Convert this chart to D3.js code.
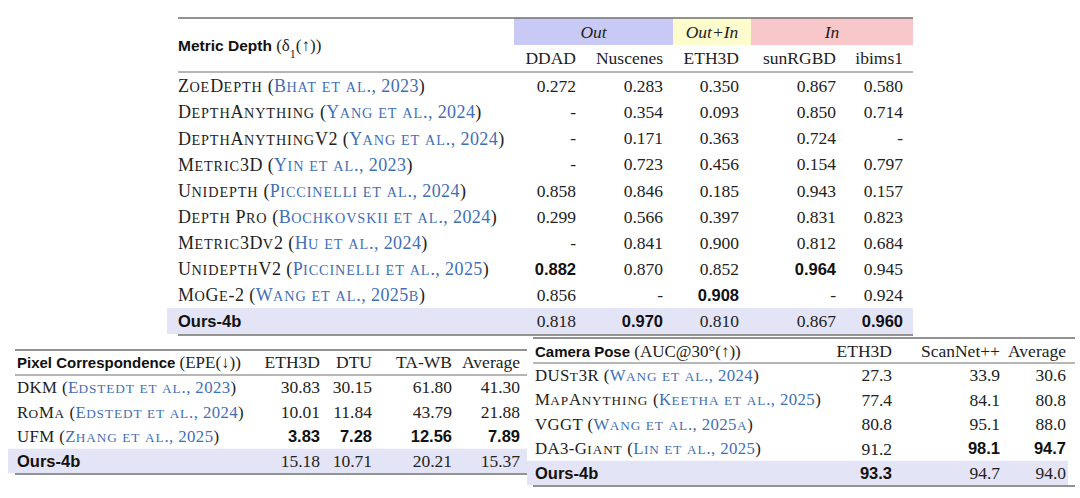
<!DOCTYPE html>
<html>
<head>
  <script src="https://d3js.org/d3.v7.min.js"></script>
  <style>
    body { margin: 0; background: #fff; }
    .serif { font-family: "Liberation Serif", serif; fill: #222; }
    .sans { font-family: "Liberation Sans", sans-serif; font-weight: bold; fill: #111; }
    .cite { fill: #3f6fb5; }
  </style>
</head>
<body>
  <svg id="chart" width="1080" height="498"></svg>
  <script>
    // metric depth table
    var depthCols = ['DDAD', 'Nuscenes', 'ETH3D', 'sunRGBD', 'ibims1'];
    var depthGroups = ['Out', 'Out+In', 'In'];
    var depthMethods = ['ZoeDepth', 'DepthAnything', 'DepthAnythingV2', 'Metric3D', 'Unidepth',
      'Depth Pro', 'Metric3Dv2', 'UnidepthV2', 'MoGe-2', 'Ours-4b'];
    var depthCites = ['Bhat et al., 2023', 'Yang et al., 2024', 'Yang et al., 2024', 'Yin et al., 2023',
      'Piccinelli et al., 2024', 'Bochkovskii et al., 2024', 'Hu et al., 2024',
      'Piccinelli et al., 2025', 'Wang et al., 2025b', null];
    var depthVals = [
      [0.272, 0.283, 0.350, 0.867, 0.580],
      [null, 0.354, 0.093, 0.850, 0.714],
      [null, 0.171, 0.363, 0.724, null],
      [null, 0.723, 0.456, 0.154, 0.797],
      [0.858, 0.846, 0.185, 0.943, 0.157],
      [0.299, 0.566, 0.397, 0.831, 0.823],
      [null, 0.841, 0.900, 0.812, 0.684],
      [0.882, 0.870, 0.852, 0.964, 0.945],
      [0.856, null, 0.908, null, 0.924],
      [0.818, 0.970, 0.810, 0.867, 0.960]
    ];

    // pixel correspondence table
    var pixCols = ['ETH3D', 'DTU', 'TA-WB', 'Average'];
    var pixMethods = ['DKM', 'RoMa', 'UFM', 'Ours-4b'];
    var pixCites = ['Edstedt et al., 2023', 'Edstedt et al., 2024', 'Zhang et al., 2025', null];
    var pixVals = [
      [30.83, 30.15, 61.80, 41.30],
      [10.01, 11.84, 43.79, 21.88],
      [3.83, 7.28, 12.56, 7.89],
      [15.18, 10.71, 20.21, 15.37]
    ];

    // camera pose table
    var camCols = ['ETH3D', 'ScanNet++', 'Average'];
    var camMethods = ['DUSt3R', 'MapAnything', 'VGGT', 'DA3-Giant', 'Ours-4b'];
    var camCites = ['Wang et al., 2024', 'Keetha et al., 2025', 'Wang et al., 2025a', 'Lin et al., 2025', null];
    var camVals = [
      [27.3, 33.9, 30.6],
      [77.4, 84.1, 80.8],
      [80.8, 95.1, 88.0],
      [91.2, 98.1, 94.7],
      [93.3, 94.7, 94.0]
    ];

    var groupColor = d3.scaleOrdinal()
      .domain(depthGroups)
      .range(['#c9c9f6', '#fdfccd', '#f8c7ca']);

    var svg = d3.select('#chart');

    // fake LaTeX small caps: lowercase runs become smaller capitals
    function smallCaps(sel, str, size) {
      str.split(/([a-z]+)/).forEach(function (part) {
        if (!part) return;
        if (/^[a-z]+$/.test(part)) {
          sel.append('tspan').style('font-size', (size * 0.79) + 'px')
            .style('letter-spacing', '0.9px').text(part.toUpperCase());
        } else {
          sel.append('tspan').text(part);
        }
      });
    }

    function drawTable(t) {
      var g = svg.append('g');
      var n = t.methods.length;
      var x = d3.scaleOrdinal().domain(t.cols).range(t.colRight);
      var y = d3.scalePoint().domain(d3.range(n)).range([t.firstRow, t.lastRow]);
      var step = y.step();

      // white backing so overlapping tables stay clean
      g.append('rect')
        .attr('x', t.left - 4).attr('y', t.top - 2)
        .attr('width', t.right - t.left + 8).attr('height', t.bottom - t.top + 4)
        .attr('fill', '#fff');

      // highlight our row
      g.append('rect')
        .attr('x', t.hlLeft).attr('y', y(n - 1) - step / 2)
        .attr('width', t.hlRight - t.hlLeft).attr('height', step)
        .attr('fill', '#e4e4f7');

      if (t.groups) {
        t.groups.forEach(function (grp, i) {
          var x0 = t.bandEdges[i], x1 = t.bandEdges[i + 1];
          g.append('rect')
            .attr('x', x0).attr('y', t.top)
            .attr('width', x1 - x0).attr('height', t.bandH)
            .attr('fill', groupColor(grp));
          g.append('text')
            .attr('class', 'serif')
            .attr('x', (x0 + x1) / 2).attr('y', t.top + t.bandH / 2)
            .attr('dy', '0.35em')
            .attr('text-anchor', 'middle')
            .style('font-style', 'italic')
            .style('font-size', '17.5px')
            .text(grp);
        });
      }

      // rules
      [[t.top, 1.6], [t.mid, 1.1], [t.bottom, 1.6]].forEach(function (r) {
        g.append('line')
          .attr('x1', t.left).attr('x2', t.right)
          .attr('y1', r[0]).attr('y2', r[0])
          .attr('stroke', '#6f6f6f').attr('stroke-width', r[1]);
      });

      // title
      var title = g.append('text')
        .attr('x', t.labelX).attr('y', t.titleY).attr('dy', '0.35em');
      title.append('tspan').attr('class', 'sans').style('font-size', t.titleSize + 'px').text(t.title);
      var sub = title.append('tspan').attr('class', 'serif').style('font-size', '17px');
      t.titleTail(sub);

      // column headers
      g.selectAll('.colhead')
        .data(t.cols)
        .enter()
        .append('text')
        .attr('class', 'serif colhead')
        .attr('x', x).attr('y', t.headY).attr('dy', '0.35em')
        .attr('text-anchor', 'end')
        .style('font-size', '17.5px')
        .text(function (d) { return d; });

      // best value per column
      var best = t.cols.map(function (c, j) {
        var col = t.vals.map(function (r) { return r[j]; }).filter(function (v) { return v != null; });
        return t.lowerBetter ? d3.min(col) : d3.max(col);
      });

      var row = g.selectAll('.row')
        .data(t.methods)
        .enter()
        .append('g')
        .attr('transform', function (d, i) { return 'translate(0,' + y(i) + ')'; });

      row.each(function (m, i) {
        var r = d3.select(this);
        var label = r.append('text').attr('x', t.labelX).attr('dy', '0.35em');
        if (t.cites[i] == null) {
          label.attr('class', 'sans').style('font-size', '16.5px').text(m);
        } else {
          label.attr('class', 'serif').style('font-size', t.labelSize + 'px')
            .style('letter-spacing', '0.4px');
          smallCaps(label.append('tspan'), m, t.labelSize);
          label.append('tspan').text(' (');
          smallCaps(label.append('tspan').attr('class', 'cite'), t.cites[i], t.labelSize);
          label.append('tspan').text(')');
        }
        t.vals[i].forEach(function (v, j) {
          var isBest = v != null && v === best[j];
          r.append('text')
            .attr('class', isBest ? 'sans' : 'serif')
            .attr('x', x(t.cols[j]))
            .attr('dy', '0.35em')
            .attr('text-anchor', 'end')
            .style('font-size', isBest ? '16.5px' : '17.5px')
            .text(v == null ? '-' : d3.format(t.fmt)(v));
        });
      });
    }

    drawTable({
      methods: depthMethods, cites: depthCites, vals: depthVals, cols: depthCols,
      groups: depthGroups, fmt: '.3f', labelSize: 18,
      colRight: [576, 663, 739, 836, 903],
      bandEdges: [514, 673, 751, 913], bandH: 27,
      left: 178, right: 913,
      top: 18, mid: 72, bottom: 335, headY: 58, titleY: 45,
      firstRow: 86, lastRow: 321, hlLeft: 167, hlRight: 913,
      labelX: 178, title: 'Metric Depth ', titleSize: 15.5,
      titleTail: function (s) {
        s.append('tspan').text('(\u03b4');
        s.append('tspan').attr('baseline-shift', 'sub').style('font-size', '12px').text('1');
        s.append('tspan').text('(\u2191))');
      }
    });

    drawTable({
      methods: pixMethods, cites: pixCites, vals: pixVals, cols: pixCols,
      fmt: '.2f', lowerBetter: true, labelSize: 16.8,
      colRight: [320, 372, 452, 520],
      left: 15, right: 527, top: 350, mid: 375, bottom: 474, headY: 362, titleY: 362,
      firstRow: 387, lastRow: 461, hlLeft: 8, hlRight: 527,
      labelX: 17, title: 'Pixel Correspondence ', titleSize: 15,
      titleTail: function (s) { s.text('(EPE(\u2193))'); }
    });

    drawTable({
      methods: camMethods, cites: camCites, vals: camVals, cols: camCols,
      fmt: '.1f', labelSize: 16.8,
      colRight: [892, 1000, 1066],
      left: 533, right: 1075, top: 338, mid: 363, bottom: 486, headY: 351, titleY: 351,
      firstRow: 375, lastRow: 473, hlLeft: 527, hlRight: 1068,
      labelX: 535, title: 'Camera Pose ', titleSize: 15,
      titleTail: function (s) { s.text('(AUC@30\u00b0(\u2191))'); }
    });
  </script>
</body>
</html>
